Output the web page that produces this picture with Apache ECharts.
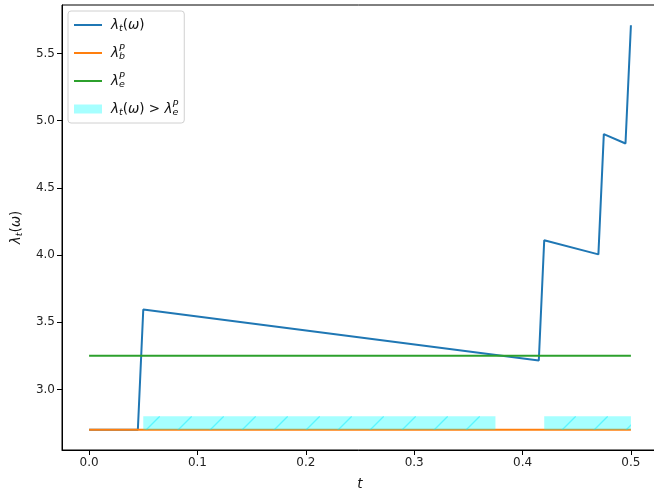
<!DOCTYPE html>
<html>
<head>
<meta charset="utf-8">
<script src="https://cdn.jsdelivr.net/npm/echarts@6/dist/echarts.min.js"></script>
<style>
html,body{margin:0;padding:0;background:#fff;}
#c{width:654px;height:493px;}
</style>
</head>
<body>
<div id="c"></div>
<script>
// ---- data ----
const tValues = [0, 0.045, 0.05, 0.415, 0.42, 0.47, 0.475, 0.495, 0.5];
const lambdaT = [2.70, 2.70, 3.595, 3.215, 4.11, 4.005, 4.90, 4.83, 5.71];
const lineStartT = 0;
const lineEndT = 0.5;
const lambdaB = 2.70;
const lambdaE = 3.25;
const fillStartT = [0.05, 0.42];
const fillEndT = [0.375, 0.5];
const fillBottom = 2.70;
const fillTop = 2.80;
const xTicks = [0, 0.1, 0.2, 0.3, 0.4, 0.5];
const yTicks = [3.0, 3.5, 4.0, 4.5, 5.0, 5.5];

// ---- build series data ----
const blueData = tValues.map((t, i) => [t, lambdaT[i]]);
const orangeData = [[lineStartT, lambdaB], [lineEndT, lambdaB]];
const greenData = [[lineStartT, lambdaE], [lineEndT, lambdaE]];
const fillData = fillStartT.map((s, i) => [s, fillEndT[i], fillBottom, fillTop]);

// hatch tile
const tile = document.createElement('canvas');
tile.width = 32; tile.height = 32;
(function(){
  const g = tile.getContext('2d');
  g.strokeStyle = 'rgba(0,235,255,0.45)';
  g.lineWidth = 1.3;
  g.beginPath();
  g.moveTo(-2, 34); g.lineTo(34, -2);
  g.stroke();
})();

const FONT = 'DejaVu Sans';
const rich = {
  m: {fontFamily: FONT, fontStyle: 'italic', fontSize: 13.5, color: '#111'},
  r: {fontFamily: FONT, fontSize: 13.5, color: '#111'},
  sub: {fontFamily: FONT, fontStyle: 'italic', fontSize: 9.5, color: '#111', padding: [7, 0, 0, 0]},
  sup0: {fontFamily: FONT, fontStyle: 'italic', fontSize: 9.5, color: '#111', padding: [0, 0, 8, 0], width: 0},
  sup: {fontFamily: FONT, fontStyle: 'italic', fontSize: 9.5, color: '#111', padding: [0, 0, 8, 0]}
};

const names = {
  lt: '{m|λ}{sub|t}{r|(}{m|ω}{r|)}',
  lb: '{m|λ}{sup0|P}{sub|b}',
  le: '{m|λ}{sup0|P}{sub|e}',
  fill: '{m|λ}{sub|t}{r|(}{m|ω}{r|) > }{m|λ}{sup0|P}{sub|e}'
};

const hideSym = {opacity: 0, color: 'transparent', borderWidth: 0};

const chart = echarts.init(document.getElementById('c'), null, {renderer: 'canvas'});
chart.setOption({
  animation: false,
  backgroundColor: '#fff',
  grid: {left: 62, top: 5, width: 596, height: 445, show: true, borderColor: '#000', borderWidth: 1,
         backgroundColor: 'transparent', containLabel: false, outerBoundsMode: 'none'},
  legend: {
    orient: 'vertical', left: 68, top: 11,
    padding: [5, 6, 5, 5],
    itemWidth: 28, itemHeight: 9, itemGap: 10,
    borderColor: '#d0d0d0', borderWidth: 1, borderRadius: 3,
    backgroundColor: 'rgba(255,255,255,0.8)',
    data: [
      {name: 'lt', itemStyle: hideSym}, {name: 'lb', itemStyle: hideSym}, {name: 'le', itemStyle: hideSym},
      {name: 'fill', icon: 'rect'}
    ],
    formatter: n => names[n],
    textStyle: {rich: rich, lineHeight: 18, padding: [0, 0, 0, 4]}
  },
  xAxis: {
    type: 'value', min: -0.025, max: 0.525,
    name: '{m|t}', nameLocation: 'middle', nameGap: 27,
    nameTextStyle: {rich: rich},
    axisLine: {show: true, onZero: false, lineStyle: {color: '#000', width: 1}},
    axisTick: {show: true, length: 5, lineStyle: {color: '#000'}, customValues: xTicks},
    axisLabel: {customValues: xTicks, formatter: v => v.toFixed(1), fontFamily: FONT, fontSize: 12, color: '#222', margin: 7},
    splitLine: {show: false}
  },
  yAxis: {
    type: 'value', min: 2.5495, max: 5.8605,
    name: '{m|λ}{sub|t}{r|(}{m|ω}{r|)}', nameLocation: 'middle', nameGap: 37, nameRotate: 90,
    nameTextStyle: {rich: rich},
    axisLine: {show: true, onZero: false, lineStyle: {color: '#000', width: 1}},
    axisTick: {show: true, length: 5, lineStyle: {color: '#000'}, customValues: yTicks},
    axisLabel: {customValues: yTicks, formatter: v => v.toFixed(1), fontFamily: FONT, fontSize: 12, color: '#222', margin: 7},
    splitLine: {show: false}
  },
  series: [
    {name: 'lt', type: 'line', data: blueData, showSymbol: false, symbol: 'none',
     color: '#1f77b4', lineStyle: {width: 2, color: '#1f77b4'}, z: 2},
    {name: 'lb', type: 'line', data: orangeData, showSymbol: false, symbol: 'none',
     color: '#ff7f0e', lineStyle: {width: 2, color: '#ff7f0e'}, z: 3},
    {name: 'le', type: 'line', data: greenData, showSymbol: false, symbol: 'none',
     color: '#2ca02c', lineStyle: {width: 2, color: '#2ca02c'}, z: 4},
    {name: 'fill', type: 'custom', data: fillData, z: 5,
     itemStyle: {color: 'rgba(0,255,255,0.35)'},
     encode: {x: [0, 1], y: [2, 3]},
     renderItem: function (params, api) {
       const p0 = api.coord([api.value(0), api.value(3)]);
       const p1 = api.coord([api.value(1), api.value(2)]);
       const shape = {x: p0[0], y: p0[1], width: p1[0] - p0[0], height: p1[1] - p0[1]};
       return {type: 'group', children: [
         {type: 'rect', shape: shape, style: {fill: 'rgba(0,255,255,0.35)'}},
         {type: 'rect', shape: shape, style: {fill: {image: tile, repeat: 'repeat'}}}
       ]};
     }}
  ]
});
</script>
</body>
</html>
